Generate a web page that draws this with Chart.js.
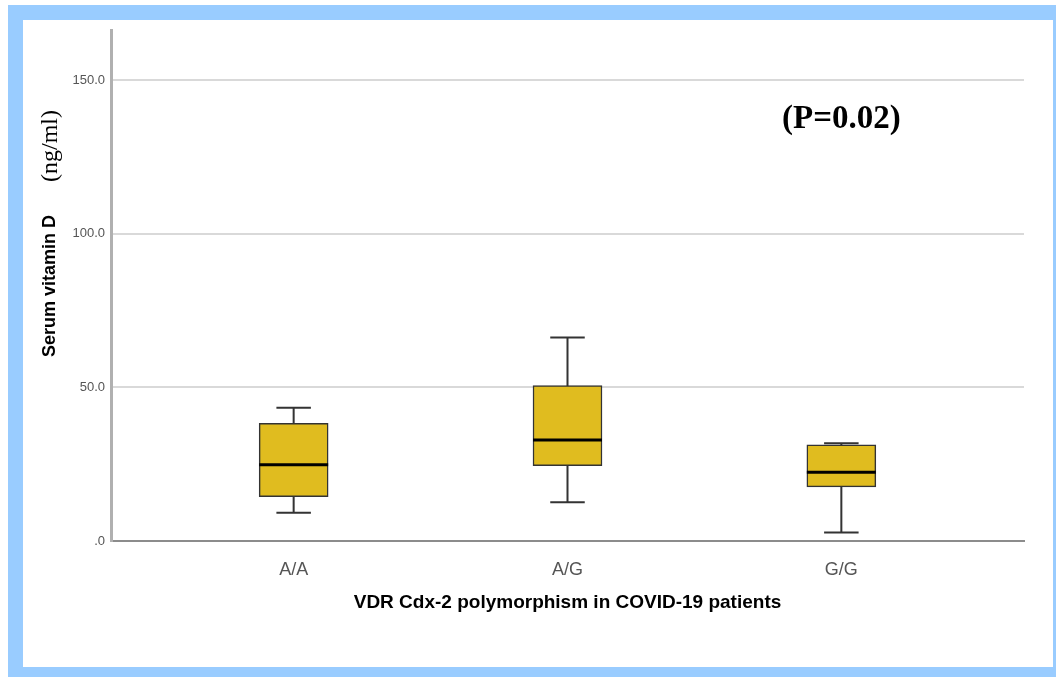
<!DOCTYPE html>
<html>
<head>
<meta charset="utf-8">
<script src="https://cdn.jsdelivr.net/npm/chart.js@4"></script>
<style>
  body { margin: 0; background: #fff; }
  #frame {
    position: absolute; left: 8px; top: 5px; width: 1048px; height: 672px;
    box-sizing: border-box; background: #fff;
    border-style: solid; border-color: #99ccff;
    border-width: 15px 3px 10px 15px;
  }
  #wrap { position: absolute; left: 0; top: 0; width: 1056px; height: 677px; }
</style>
</head>
<body>
<div id="frame"></div>
<div id="wrap"><canvas id="chart"></canvas></div>
<script>
// ---- data ----
const categories = ["A/A", "A/G", "G/G"];
const whiskerLow = [9.2, 12.6, 2.8];
const q1 = [14.4, 24.5, 17.6];
const median = [24.8, 32.9, 22.4];
const q3 = [38.3, 50.6, 31.3];
const whiskerHigh = [43.4, 66.3, 31.8];
const yTicks = [0, 50, 100, 150];
const yTickLabels = [".0", "50.0", "100.0", "150.0"];
const pValueText = "(P=0.02)";

const xIndex = categories.map((c, i) => i);

// whiskers behind the boxes, medians on top
const boxPlot = {
  id: "boxPlot",
  beforeDatasetsDraw(chart) {
    const ctx = chart.ctx;
    const y = chart.scales.y;
    const meta = chart.getDatasetMeta(0);
    ctx.save();
    ctx.strokeStyle = "#333";
    ctx.lineWidth = 2;
    meta.data.forEach((bar, i) => {
      const cx = bar.x;
      const half = bar.width / 4;
      const lo = y.getPixelForValue(whiskerLow[i]);
      const hi = y.getPixelForValue(whiskerHigh[i]);
      ctx.beginPath();
      ctx.moveTo(cx, lo);
      ctx.lineTo(cx, hi);
      ctx.moveTo(cx - half, lo);
      ctx.lineTo(cx + half, lo);
      ctx.moveTo(cx - half, hi);
      ctx.lineTo(cx + half, hi);
      ctx.stroke();
    });
    ctx.restore();
  },
  afterDatasetsDraw(chart) {
    const ctx = chart.ctx;
    const x = chart.scales.x;
    const y = chart.scales.y;
    const meta = chart.getDatasetMeta(0);
    ctx.save();
    ctx.strokeStyle = "#000";
    ctx.lineWidth = 3;
    meta.data.forEach((bar, i) => {
      const m = y.getPixelForValue(median[i]);
      ctx.beginPath();
      ctx.moveTo(bar.x - bar.width / 2, m);
      ctx.lineTo(bar.x + bar.width / 2, m);
      ctx.stroke();
    });

    // p-value note
    ctx.fillStyle = "#000";
    ctx.font = "bold 33px 'Liberation Serif', 'Times New Roman', serif";
    ctx.textAlign = "center";
    ctx.textBaseline = "alphabetic";
    ctx.fillText(pValueText, x.getPixelForValue(2), y.getPixelForValue(134.5));

    // y title, two fonts
    ctx.save();
    ctx.translate(55, 357);
    ctx.rotate(-Math.PI / 2);
    ctx.textAlign = "left";
    ctx.font = "bold 18px 'Liberation Sans', Arial, sans-serif";
    ctx.fillText("Serum vitamin D", 0, 0);
    ctx.restore();
    ctx.save();
    ctx.translate(57, 182);
    ctx.rotate(-Math.PI / 2);
    ctx.textAlign = "left";
    ctx.font = "24px 'Liberation Serif', 'Times New Roman', serif";
    ctx.fillText("(ng/ml)", 0, 0);
    ctx.restore();
    ctx.restore();
  }
};

new Chart(document.getElementById("chart"), {
  type: "bar",
  data: {
    datasets: [{
      data: xIndex.map(i => ({ x: i, y: [q1[i], q3[i]] })),
      backgroundColor: "#e0bc1f",
      borderColor: "#333",
      borderWidth: 1.5,
      borderSkipped: false,
      barThickness: 69
    }]
  },
  options: {
    responsive: true,
    maintainAspectRatio: false,
    animation: false,
    layout: { padding: { top: 30, right: 32, left: 0, bottom: 0 } },
    plugins: { legend: { display: false }, tooltip: { enabled: false } },
    scales: {
      x: {
        type: "linear",
        offset: false,
        min: -0.667,
        max: 2.667,
        afterFit: s => { s.height = 136; },
        afterBuildTicks: s => { s.ticks = xIndex.map(v => ({ value: v })); },
        grid: { display: false, offset: false },
        border: { display: true, color: "#8c8c8c", width: 2 },
        ticks: {
          padding: 10,
          color: "#555",
          font: { family: "'Liberation Sans', Arial, sans-serif", size: 18 },
          callback: v => categories[v]
        },
        title: {
          display: true,
          text: "VDR Cdx-2 polymorphism in COVID-19 patients",
          color: "#000",
          padding: { top: 0, bottom: 63 },
          font: { family: "'Liberation Sans', Arial, sans-serif", size: 19, weight: "bold" }
        }
      },
      y: {
        min: 0,
        max: 166.4,
        afterFit: s => { s.width = 111; },
        afterBuildTicks: s => { s.ticks = yTicks.map(v => ({ value: v })); },
        grid: { color: "#d9d9d9", lineWidth: 2, drawTicks: false },
        border: { display: true, color: "#b0b0b0", width: 3 },
        ticks: {
          padding: 6,
          color: "#555",
          font: { family: "'Liberation Sans', Arial, sans-serif", size: 13 },
          callback: v => yTickLabels[yTicks.indexOf(v)]
        }
      }
    }
  },
  plugins: [boxPlot]
});
</script>
</body>
</html>
